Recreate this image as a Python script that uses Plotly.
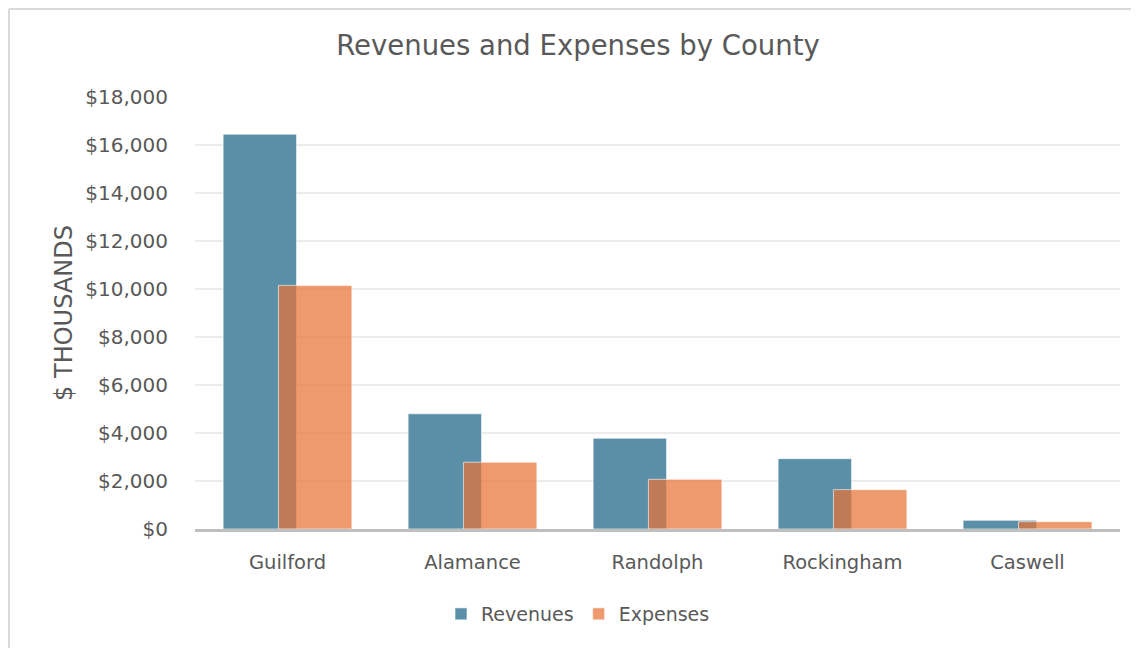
"""
Revenues and Expenses by County — overlapping clustered bars.
"""

import plotly.graph_objects as go


# =====================================================================
# Data (values in $ thousands)
# =====================================================================

counties = ["Guilford", "Alamance", "Randolph", "Rockingham", "Caswell"]
revenues = [16450, 4800, 3780, 2930, 360]
expenses = [10150, 2780, 2070, 1640, 305]

GREY_TEXT = "#595959"
FONT = "DejaVu Sans"

# The page body has an 8px margin, so the figure is drawn 8px in from the
# window's top-left corner; sizes below are chosen with that in mind.
W, H = 1131, 640

# =====================================================================
# Figure
# =====================================================================

fig = go.Figure()

# Revenues sit on the left, expenses overlap them by ~25% on the right
fig.add_trace(go.Bar(
    x=counties,
    y=revenues,
    name="Revenues",
    width=0.397,
    offset=-0.348,
    marker=dict(color="#5b8fa8", line=dict(color="rgba(255,255,255,0.6)", width=1)),
))

fig.add_trace(go.Bar(
    x=counties,
    y=expenses,
    name="Expenses",
    width=0.397,
    offset=-0.049,
    marker=dict(color="rgba(231,115,54,0.72)", line=dict(color="rgba(255,255,255,0.6)", width=1)),
))

fig.update_layout(
    barmode="overlay",
    width=W,
    height=H,
    paper_bgcolor="white",
    plot_bgcolor="white",
    margin=dict(l=187, r=19, t=89, b=119),
    font=dict(family=FONT, color=GREY_TEXT),
    title=dict(
        text="Revenues and Expenses by County",
        x=(578 - 8) / W, xref="container", xanchor="center",
        y=1 - 37 / H, yanchor="middle",
        font=dict(size=27.5, color=GREY_TEXT, family=FONT),
    ),
    legend=dict(
        orientation="h",
        x=(578 - 8) / W, xref="container", xanchor="center",
        y=1 - 606 / H, yref="container", yanchor="middle",
        font=dict(size=19, color=GREY_TEXT),
        itemwidth=30,
    ),
    showlegend=True,
)

fig.update_xaxes(
    type="category",
    showgrid=False,
    showline=True,
    linecolor="#bfbfbf",
    linewidth=3,
    ticks="",
    ticklabelstandoff=14,
    tickfont=dict(size=19.5, color=GREY_TEXT),
)

fig.update_yaxes(
    range=[0, 18000],
    dtick=2000,
    tickprefix="$",
    tickformat=",d",
    showgrid=True,
    gridcolor="#ececec",
    gridwidth=1.5,
    zeroline=False,
    ticks="",
    ticklabelstandoff=26,
    tickfont=dict(size=20, color=GREY_TEXT),
    title=dict(text="$ THOUSANDS", font=dict(size=24, color=GREY_TEXT), standoff=5),
)

# Chart frame: only the left and top edges fall inside the window
frame_x = (1 - 187) / 925
frame_y = (521 - 1) / 432
fig.add_shape(type="line", xref="paper", yref="paper",
              x0=frame_x, x1=frame_x, y0=-0.4, y1=frame_y,
              line=dict(color="#d9d9d9", width=2))
fig.add_shape(type="line", xref="paper", yref="paper",
              x0=frame_x, x1=1.05, y0=frame_y, y1=frame_y,
              line=dict(color="#d9d9d9", width=2))

fig.write_html("out.html")
